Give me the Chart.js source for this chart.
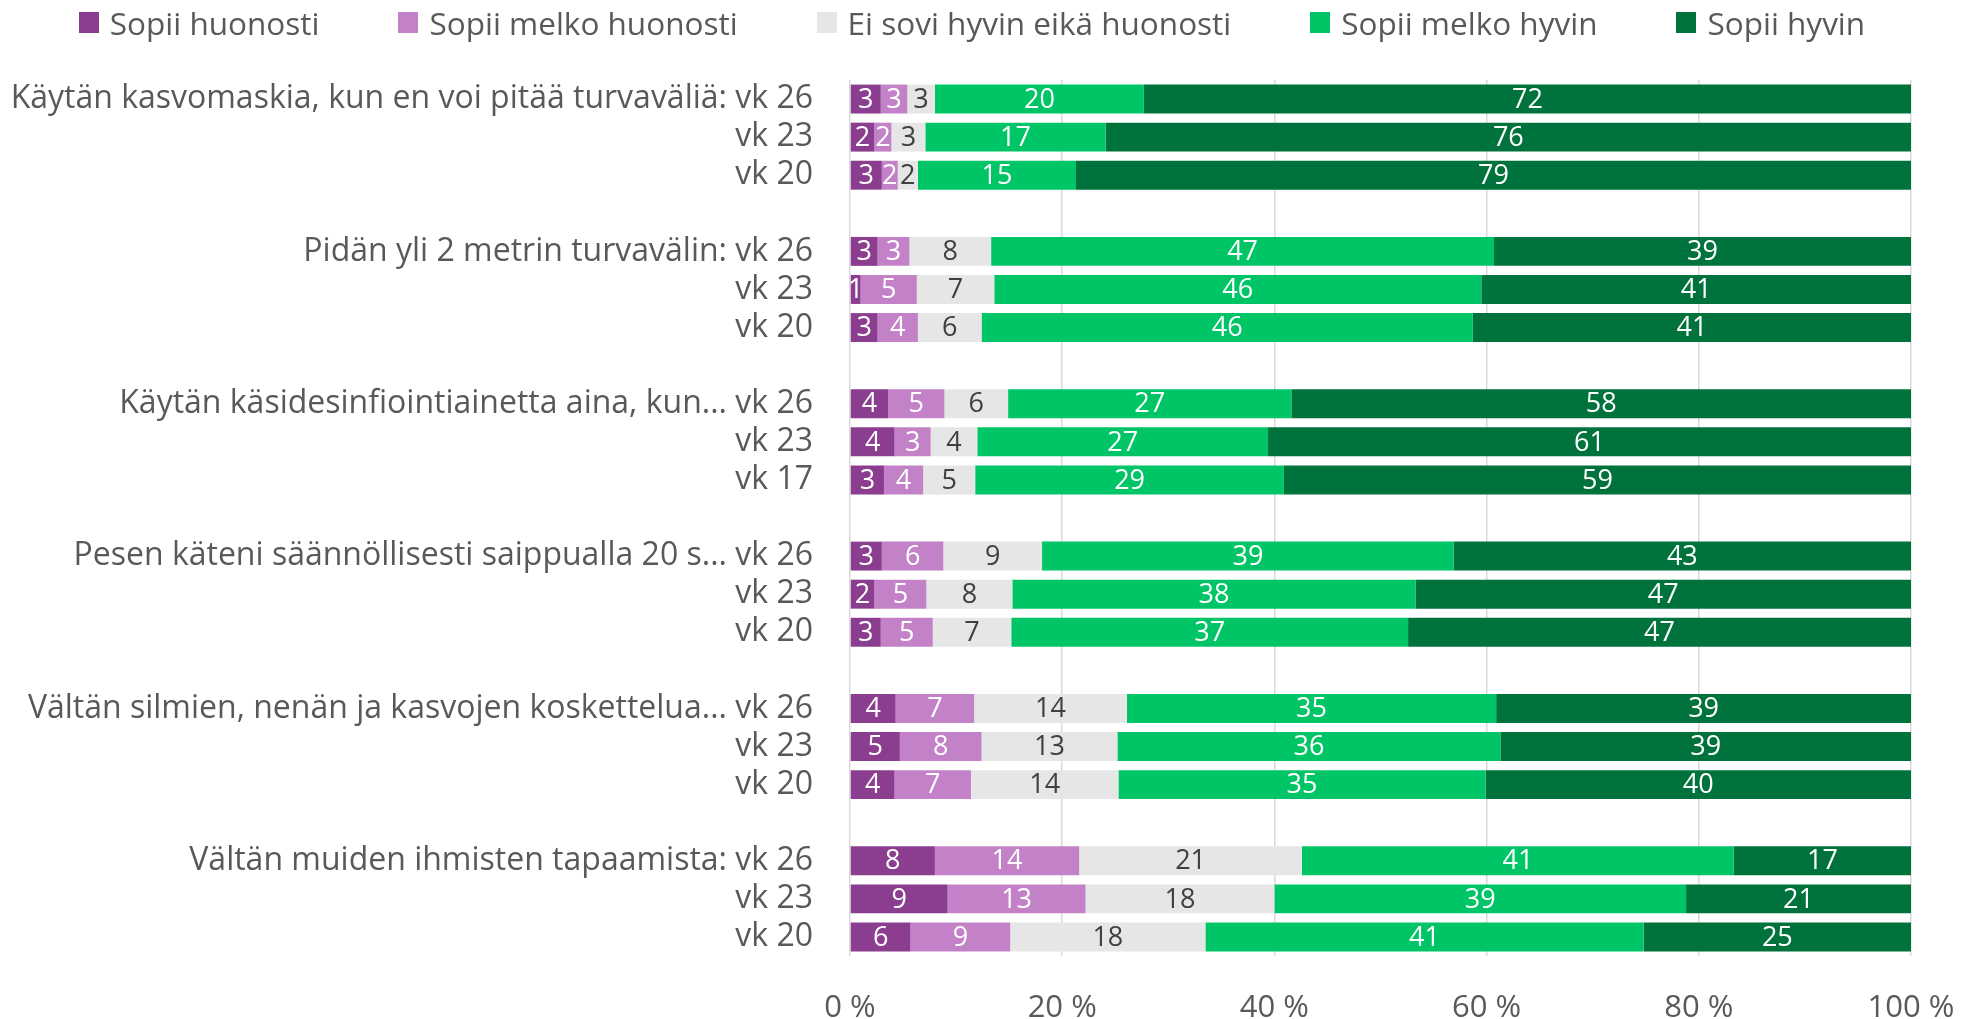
<!DOCTYPE html>
<html lang="fi">
<head>
<meta charset="utf-8">
<title>Suositusten noudattaminen</title>
<script src="https://cdn.jsdelivr.net/npm/chart.js@4.4.1/dist/chart.umd.min.js"></script>
<style>
  html, body { margin: 0; padding: 0; background: #fff; }
  #wrap { position: relative; width: 1966px; height: 1019px; }
  #legend {
    position: absolute; top: 0; left: 0; width: 1966px; height: 44px;
    display: flex; justify-content: center; align-items: center;
    gap: 79px; padding-right: 22px; box-sizing: border-box;
    font-family: "Open Sans", sans-serif; font-size: 31.5px; color: #595959;
  }
  #legend .item { display: flex; align-items: center; white-space: nowrap; }
  #legend .box { width: 20px; height: 21px; margin-right: 11px; }
</style>
</head>
<body>
<div id="wrap">
  <canvas id="myChart" width="1966" height="1019"></canvas>
  <div id="legend"></div>
</div>
<script>
/* globals Chart:false */

// Väittämät ja mittausviikot
const statements = [
    "Käytän kasvomaskia, kun en voi pitää turvaväliä:",
    "Pidän yli 2 metrin turvavälin:",
    "Käytän käsidesinfiointiainetta aina, kun...",
    "Pesen käteni säännöllisesti saippualla 20 s...",
    "Vältän silmien, nenän ja kasvojen koskettelua...",
    "Vältän muiden ihmisten tapaamista:",
];
const weeks = [
    ["vk 26", "vk 23", "vk 20"],
    ["vk 26", "vk 23", "vk 20"],
    ["vk 26", "vk 23", "vk 17"],
    ["vk 26", "vk 23", "vk 20"],
    ["vk 26", "vk 23", "vk 20"],
    ["vk 26", "vk 23", "vk 20"],
];

// Osuudet (%) riveittäin, null = tyhjä väli ryhmien välissä
const sopiiHuonosti = [2.9, 2.3, 3.0, null, 2.6, 1.0, 2.6, null, 3.6, 4.2, 3.2, null, 3.0, 2.3, 2.9, null, 4.3, 4.7, 4.2, null, 8.0, 9.2, 5.7];
const sopiiMelkoHuonosti = [2.5, 1.6, 1.5, null, 3.0, 5.3, 3.8, null, 5.3, 3.4, 3.7, null, 5.8, 4.9, 4.9, null, 7.4, 7.7, 7.2, null, 13.6, 13.0, 9.4];
const eiSovi = [2.6, 3.2, 1.9, null, 7.7, 7.3, 6.0, null, 6.0, 4.4, 4.9, null, 9.3, 8.1, 7.4, null, 14.4, 12.8, 13.9, null, 21.0, 17.8, 18.4];
const sopiiMelkoHyvin = [19.7, 17.0, 14.9, null, 47.4, 45.9, 46.3, null, 26.7, 27.4, 29.1, null, 38.8, 38.0, 37.4, null, 34.8, 36.1, 34.6, null, 40.7, 38.8, 41.3];
const sopiiHyvin = [72.3, 75.9, 78.7, null, 39.3, 40.5, 41.3, null, 58.4, 60.6, 59.1, null, 43.1, 46.7, 47.4, null, 39.1, 38.7, 40.1, null, 16.7, 21.2, 25.2];

const xTicks = [0, 20, 40, 60, 80, 100];

// Rivien nimet: väittämä vain ensimmäiselle riville, tyhjä rivi ryhmien väliin
const labels = [];
statements.forEach((s, g) => {
    weeks[g].forEach((w, k) => labels.push(k === 0 ? s + " " + w : w));
    if (g < statements.length - 1) labels.push("");
});

Chart.defaults.font.family = '"Open Sans", sans-serif';
Chart.defaults.color = "#595959";

// Arvot palkkien keskelle
const barLabels = {
    id: "barLabels",
    afterDatasetsDraw(chart) {
        const { ctx } = chart;
        ctx.save();
        ctx.font = '27px "Open Sans", sans-serif';
        ctx.textAlign = "center";
        ctx.textBaseline = "middle";
        chart.data.datasets.forEach((ds, i) => {
            const meta = chart.getDatasetMeta(i);
            meta.data.forEach((bar, j) => {
                const v = ds.data[j];
                if (v === null || v === undefined) return;
                ctx.fillStyle = ds.labelColor;
                ctx.fillText(String(Math.round(v)), (bar.x + bar.base) / 2, bar.y + 1);
            });
        });
        ctx.restore();
    },
};

const ctx = document.getElementById("myChart");
const myChart = new Chart(ctx, {
    type: "bar",
    data: {
        labels: labels,
        datasets: [
            { label: "Sopii huonosti", data: sopiiHuonosti, backgroundColor: "#8B3E8F", labelColor: "#ffffff" },
            { label: "Sopii melko huonosti", data: sopiiMelkoHuonosti, backgroundColor: "#C382C8", labelColor: "#ffffff" },
            { label: "Ei sovi hyvin eikä huonosti", data: eiSovi, backgroundColor: "#E6E6E6", labelColor: "#404040" },
            { label: "Sopii melko hyvin", data: sopiiMelkoHyvin, backgroundColor: "#00C566", labelColor: "#ffffff" },
            { label: "Sopii hyvin", data: sopiiHyvin, backgroundColor: "#00733C", labelColor: "#ffffff" },
        ],
    },
    options: {
        indexAxis: "y",
        responsive: false,
        animation: false,
        layout: { padding: { top: 80, right: 0, bottom: 0, left: 0 } },
        datasets: {
            bar: { categoryPercentage: 1, barPercentage: 0.76, borderWidth: 0 },
        },
        scales: {
            x: {
                stacked: true,
                min: 0,
                max: 100,
                afterBuildTicks: (scale) => {
                    scale.ticks = xTicks.map((v) => ({ value: v }));
                },
                afterFit: (scale) => {
                    scale.height = 63;
                    // tilaa oikealle vain "100 %" -tekstin verran
                    scale.paddingLeft = 0;
                    scale.paddingRight = 55;
                },
                grid: { color: "#D9D9D9", lineWidth: 1.5, drawTicks: false },
                border: { display: false },
                ticks: {
                    padding: 34,
                    font: { size: 31 },
                    color: "#595959",
                    callback: (v) => v + " %",
                },
            },
            y: {
                stacked: true,
                afterFit: (scale) => {
                    scale.width = 850;
                },
                grid: { display: false, drawTicks: false },
                border: { display: false },
                ticks: {
                    autoSkip: false,
                    padding: 37,
                    font: { size: 32 },
                    color: "#595959",
                },
            },
        },
        plugins: {
            legend: { display: false },
            tooltip: { enabled: false },
        },
    },
    plugins: [barLabels],
});

// Selite HTML:nä kaavion omista sarjoista
const legendBox = document.getElementById("legend");
myChart.data.datasets.forEach((ds) => {
    const item = document.createElement("div");
    item.className = "item";
    const box = document.createElement("span");
    box.className = "box";
    box.style.background = ds.backgroundColor;
    const text = document.createElement("span");
    text.textContent = ds.label;
    item.appendChild(box);
    item.appendChild(text);
    legendBox.appendChild(item);
});
</script>
</body>
</html>
